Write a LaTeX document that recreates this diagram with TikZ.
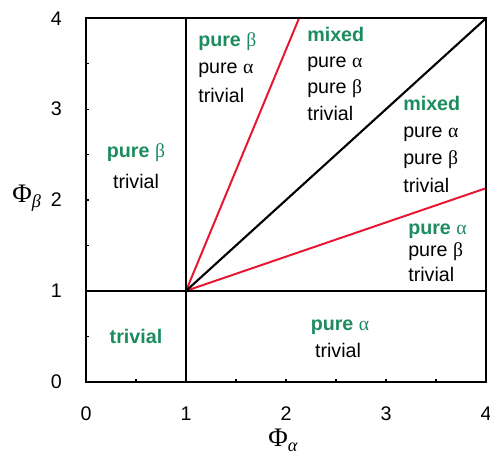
\documentclass[tikz,border=0pt]{standalone}
\usepackage{fontspec}
\setmainfont{Liberation Sans}
\newfontfamily\seriff{Liberation Serif}
\definecolor{lbl}{RGB}{28,140,96}
\definecolor{lnred}{RGB}{232,20,48}
\newcommand{\ga}{{\seriff α}}
\newcommand{\gb}{{\seriff β}}
\begin{document}
\begin{tikzpicture}[x=2.5cm,y=2.2713cm,
  region/.style={font=\fontsize{14}{16}\selectfont, inner sep=0pt},
  hl/.style={region, text=lbl, font=\fontsize{14}{16}\selectfont\bfseries},
  ticklbl/.style={font=\fontsize{14}{16}\selectfont, inner sep=0pt},
  frame/.style={line width=1.5pt, black},
  redline/.style={line width=1.4pt, lnred},
  tck/.style={line width=0.8pt}]
\useasboundingbox (-0.86,-0.8288) rectangle (4.04,4.2015);
% corners / coordinates
\coordinate (o) at (0,0);
\coordinate (tr) at (4,4);
\coordinate (c) at (1,1);
\coordinate (xb) at (1,0);
\coordinate (xt) at (1,4);
\coordinate (yl) at (0,1);
\coordinate (yr) at (4,1);
\coordinate (rt) at (2.13,4);
\coordinate (rr) at (4,2.13);
% ticks
\foreach \v in {0.5,1,...,3.5}{
  \draw[tck] (\v,0) -- ++(0,0.035);
  \draw[tck] (0,\v) -- ++(0.032,0);
}
% lines
\draw[redline] (c) -- (rt);
\draw[redline] (c) -- (rr);
\draw[frame] (c) -- (tr);
\draw[frame] (xb) -- (xt);
\draw[frame] (yl) -- (yr);
\draw[frame] (o) rectangle (tr);
% tick labels
\foreach \v in {0,1,3,4}{
  \node[ticklbl, anchor=east] (yl\v) at (-0.24,\v) {\v};
}
\node[ticklbl, anchor=east] (yl2) at (-0.24,2) {2};
\foreach \v in {0,...,4}{
  \node[ticklbl] (xl\v) at (\v,-0.347) {\v};
}
% axis labels
\node[anchor=base west, inner sep=0pt, font=\fontsize{19}{21}\selectfont] (phib) at (-0.74,1.976) {\seriff Φ\raisebox{-0.45ex}{\fontsize{13}{15}\selectfont\itshape β}};
\node[anchor=base west, inner sep=0pt, font=\fontsize{19}{21}\selectfont] (phia) at (1.82,-0.71) {\seriff Φ\raisebox{-0.45ex}{\fontsize{13}{15}\selectfont\itshape α}};
% left region
\node[hl, anchor=base] (l1) at (0.5,2.473) {pure \mdseries\gb};
\node[region, anchor=base] (l2) at (0.5,2.132) {trivial};
% region 2
\node[hl, anchor=base west] (a1) at (1.12,3.687) {pure \mdseries\gb};
\node[region, anchor=base west] (a2) at (1.12,3.387) {pure \ga};
\node[region, anchor=base west] (a3) at (1.12,3.068) {trivial};
% region 3
\node[hl, anchor=base west] (b1) at (2.21,3.750) {mixed};
\node[region, anchor=base west] (b2) at (2.21,3.464) {pure \ga};
\node[region, anchor=base west] (b3) at (2.21,3.169) {pure \gb};
\node[region, anchor=base west] (b4) at (2.21,2.872) {trivial};
% region 4
\node[hl, anchor=base west] (d1) at (3.17,2.980) {mixed};
\node[region, anchor=base west] (d2) at (3.17,2.683) {pure \ga};
\node[region, anchor=base west] (d3) at (3.17,2.386) {pure \gb};
\node[region, anchor=base west] (d4) at (3.17,2.088) {trivial};
% region 5
\node[hl, anchor=base west] (e1) at (3.22,1.615) {pure \mdseries\ga};
\node[region, anchor=base west] (e2) at (3.22,1.373) {pure \gb};
\node[region, anchor=base west] (e3) at (3.22,1.098) {trivial};
% bottom
\node[hl, anchor=base] (f1) at (0.5,0.426) {trivial};
\node[hl, anchor=base] (g1) at (2.54,0.569) {pure \mdseries\ga};
\node[region, anchor=base] (g2) at (2.52,0.272) {trivial};
\end{tikzpicture}
\end{document}
